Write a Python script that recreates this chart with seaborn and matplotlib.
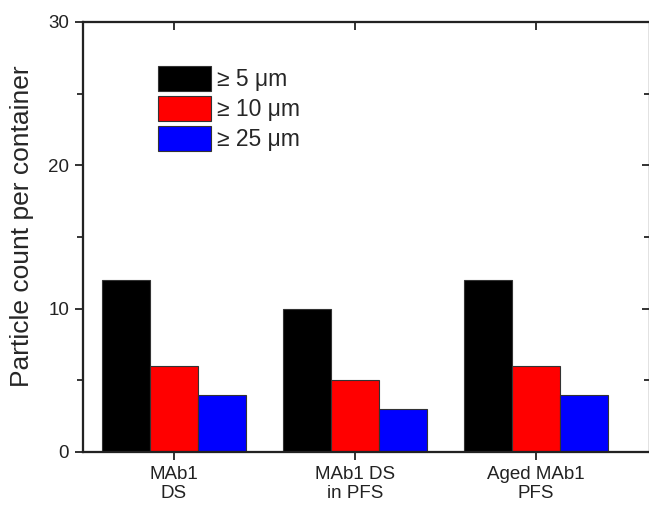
import matplotlib
matplotlib.use("Agg")
import matplotlib.pyplot as plt
import seaborn as sns
import pandas as pd
from matplotlib.ticker import MultipleLocator

samples = ["MAb1\nDS", "MAb1 DS\nin PFS", "Aged MAb1\nPFS"]
sizes = ["\u2265 5 \u03bcm", "\u2265 10 \u03bcm", "\u2265 25 \u03bcm"]
ge5 = [12, 10, 12]
ge10 = [6, 5, 6]
ge25 = [4, 3, 4]
colors = ["#000000", "#ff0000", "#0000ff"]

df = pd.DataFrame({
    "sample": samples * 3,
    "size": [s for s in sizes for _ in samples],
    "count": ge5 + ge10 + ge25,
})

sns.set_style("ticks")
plt.rcParams["font.family"] = ["Liberation Sans", "DejaVu Sans"]

fig = plt.figure(figsize=(6.49, 5.07), dpi=100)
ax = fig.add_axes([83 / 649, 55 / 507, 567 / 649, 430 / 507])

sns.barplot(data=df, x="sample", y="count", hue="size", palette=colors,
            width=0.80, edgecolor="#333333", linewidth=0.8, saturation=1,
            ax=ax, errorbar=None)

xlim = (-0.503, 2.63)
ax.set_xlim(*xlim)
ax.set_ylim(0, 30)
ax.yaxis.set_major_locator(MultipleLocator(10))
ax.yaxis.set_minor_locator(MultipleLocator(5))
ax.set_xlabel("")
ax.set_ylabel("Particle count per container", fontsize=19)
ax.yaxis.set_label_coords(-0.087, 0.525)
ax.tick_params(axis="both", labelsize=13.5, width=1.3, length=6, direction="out",
               colors="#222222", pad=4)
ax.tick_params(axis="y", which="minor", width=1.3, length=4, direction="out")
for s in ax.spines.values():
    s.set_linewidth(1.5)
    s.set_color("#222222")

# right axis mirror ticks
ax2 = ax.twinx()
ax2.set_ylim(0, 30)
ax2.yaxis.set_major_locator(MultipleLocator(10))
ax2.yaxis.set_minor_locator(MultipleLocator(5))
ax2.tick_params(axis="y", which="major", direction="in", length=6, width=1.3,
                labelright=False, colors="#222222")
ax2.tick_params(axis="y", which="minor", direction="in", length=4, width=1.3,
                colors="#222222")

# top axis mirror ticks
ax3 = ax.twiny()
ax3.set_xlim(*xlim)
ax3.set_xticks([0, 1, 2])
ax3.tick_params(axis="x", direction="in", length=6, width=1.3,
                labeltop=False, colors="#222222")
for a in (ax2, ax3):
    for s in a.spines.values():
        s.set_linewidth(1.5)
        s.set_color("#222222")

ax.legend(loc="upper left", bbox_to_anchor=(0.132, 0.897), frameon=False,
          fontsize=16.5, handlelength=2.3, handleheight=1.3, handletextpad=0.3,
          labelspacing=0.2, borderaxespad=0, borderpad=0)

fig.savefig("out.png", dpi=100)
